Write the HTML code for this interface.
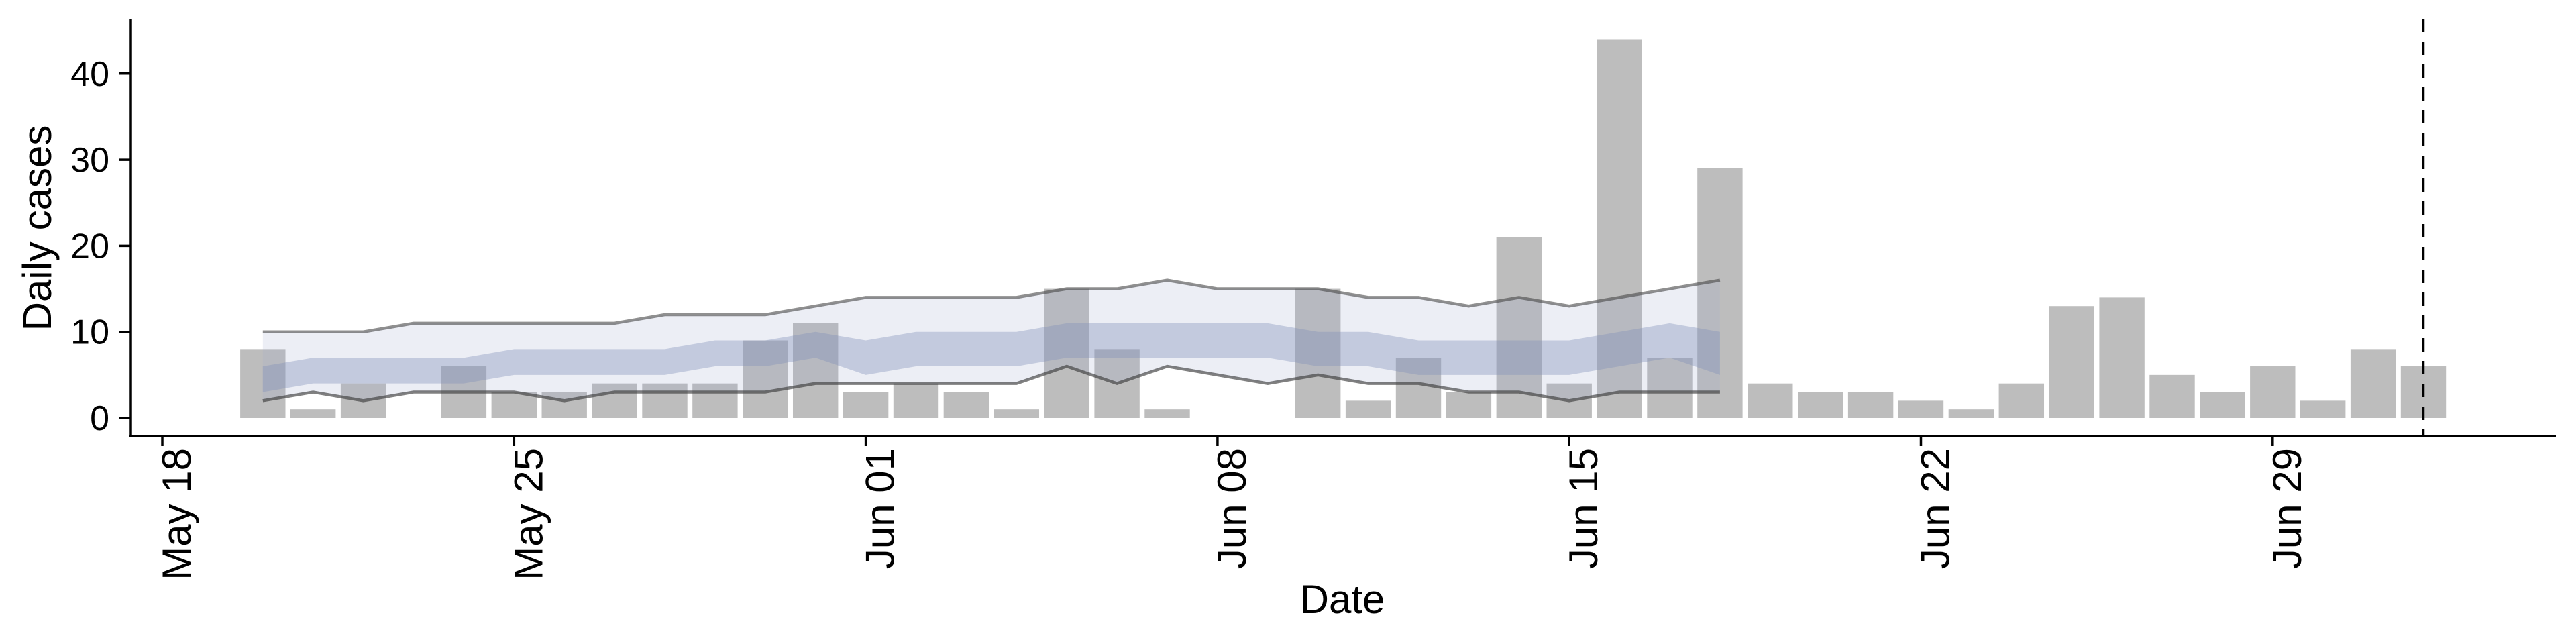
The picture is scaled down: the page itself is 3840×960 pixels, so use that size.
<!DOCTYPE html>
<html><head><meta charset="utf-8"><style>
html,body{margin:0;padding:0;background:#fff;}
svg{display:block;font-family:"Liberation Sans",Arial,sans-serif;}
</style></head><body>
<svg id="chart" width="3840" height="960" viewBox="0 0 3840 960" xmlns="http://www.w3.org/2000/svg">
<g id="bars"></g>
<g id="ribbons"></g>
<g id="axes"></g>
</svg>
<script>
// Days offset from May 18
const barDays = [];
for (let d = 2; d <= 45; d++) barDays.push(d);
const barValues = [8,1,4,0,6,3,3,4,4,4,9,11,3,4,3,1,15,8,1,0,0,15,2,7,3,21,4,44,7,29,4,3,3,2,1,4,13,14,5,3,6,2,8,6];
const ribbonDays = [];
for (let d = 2; d <= 31; d++) ribbonDays.push(d);
const upperLine = [10,10,10,11,11,11,11,11,12,12,12,13,14,14,14,14,15,15,16,15,15,15,14,14,13,14,13,14,15,16];
const lowerLine = [2,3,2,3,3,3,2,3,3,3,3,4,4,4,4,4,6,4,6,5,4,5,4,4,3,3,2,3,3,3];
const innerHi = [6,7,7,7,7,8,8,8,8,9,9,10,9,10,10,10,11,11,11,11,11,10,10,9,9,9,9,10,11,10];
const innerLo = [3,4,4,4,4,5,5,5,5,6,6,7,5,6,6,6,7,7,7,7,7,6,6,5,5,5,5,6,7,5];
const yTicks = [0,10,20,30,40];
const xTickDays = [0,7,14,21,28,35,42];
const xTickLabels = ["May 18","May 25","Jun 01","Jun 08","Jun 15","Jun 22","Jun 29"];
const cutoffDay = 45;

const NS = "http://www.w3.org/2000/svg";
const X0 = 242, DAY = 74.9, Y0 = 623, UNIT = 12.83;
const xs = d => X0 + d * DAY;
const ys = v => Y0 - v * UNIT;
function mk(tag, attrs, parent) {
  const e = document.createElementNS(NS, tag);
  for (const k in attrs) e.setAttribute(k, attrs[k]);
  parent.appendChild(e);
  return e;
}
const gB = document.getElementById('bars');
barDays.forEach((d, i) => {
  const v = barValues[i];
  const r = mk('rect', {x: xs(d) - 0.45 * DAY, y: ys(v), width: 0.9 * DAY, height: v * UNIT, fill: '#bdbdbd'}, gB);
  
  
});
const gR = document.getElementById('ribbons');
function band(hi, lo, fill, name) {
  let p = '';
  ribbonDays.forEach((d, i) => { p += (i ? 'L' : 'M') + xs(d) + ',' + ys(hi[i]); });
  for (let i = ribbonDays.length - 1; i >= 0; i--) p += 'L' + xs(ribbonDays[i]) + ',' + ys(lo[i]);
  const e = mk('path', {d: p + 'Z', fill: fill}, gR);
  
  
}
band(upperLine, lowerLine, 'rgba(160,170,205,0.2)', 'outer-band');
band(innerHi, innerLo, 'rgba(130,145,185,0.38)', 'inner-band');
function line(vals, name, col) {
  const pts = ribbonDays.map((d, i) => xs(d) + ',' + ys(vals[i])).join(' ');
  const e = mk('polyline', {points: pts, fill: 'none', stroke: col, 'stroke-width': 4.5}, gR);
  
  
}
line(upperLine, 'upper-line', 'rgba(70,70,70,0.6)');
line(lowerLine, 'lower-line', 'rgba(60,60,60,0.65)');

const gA = document.getElementById('axes');
const yax = mk('line', {x1: 195, y1: 28, x2: 195, y2: 652, stroke: '#000', 'stroke-width': 3.5}, gA);


const xax = mk('line', {x1: 193, y1: 650, x2: 3810, y2: 650, stroke: '#000', 'stroke-width': 3.5}, gA);


yTicks.forEach(v => {
  mk('line', {x1: 177, y1: ys(v), x2: 195, y2: ys(v), stroke: '#000', 'stroke-width': 3.5}, gA);
  const t = mk('text', {x: 163, y: ys(v) + 18, 'font-size': 52, 'text-anchor': 'end', fill: '#000'}, gA);
  t.textContent = v;
  
  
});
xTickDays.forEach((d, i) => {
  mk('line', {x1: xs(d), y1: 650, x2: xs(d), y2: 665, stroke: '#000', 'stroke-width': 3.5}, gA);
  const t = mk('text', {transform: 'translate(' + (xs(d) + 42) + ',668) rotate(-90)', 'font-size': 60, 'text-anchor': 'end', fill: '#000'}, gA);
  t.textContent = xTickLabels[i];
  
  
});
const cut = mk('line', {x1: xs(cutoffDay), y1: 28, x2: xs(cutoffDay), y2: 650, stroke: '#000', 'stroke-width': 3.5, 'stroke-dasharray': '20,14'}, gA);


const yt = mk('text', {transform: 'translate(76,340) rotate(-90)', 'font-size': 60, 'text-anchor': 'middle', fill: '#000'}, gA);
yt.textContent = 'Daily cases';


const xt = mk('text', {x: 2001, y: 914, 'font-size': 60, 'text-anchor': 'middle', fill: '#000'}, gA);
xt.textContent = 'Date';


</script>
</body></html>
